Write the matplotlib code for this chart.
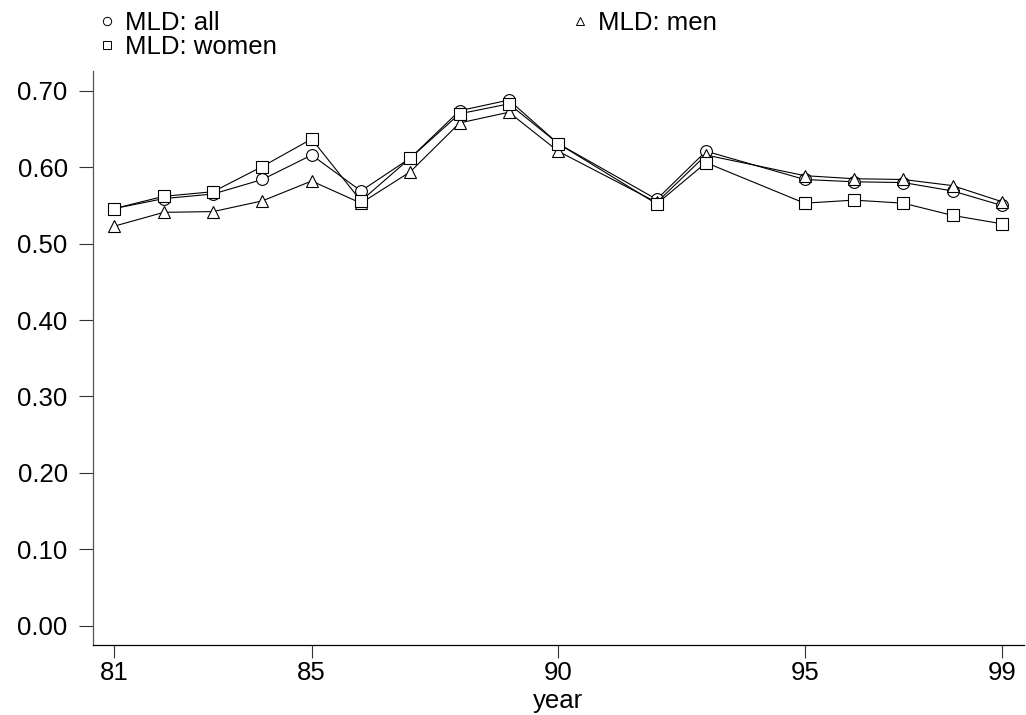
import matplotlib
matplotlib.use("Agg")
import matplotlib.pyplot as plt
from matplotlib.lines import Line2D

plt.rcParams['font.family'] = ['Liberation Sans', 'DejaVu Sans']

years = [81, 82, 83, 84, 85, 86, 87, 88, 89, 90, 92, 93, 95, 96, 97, 98, 99]
mld_all = [0.546, 0.559, 0.565, 0.584, 0.616, 0.569, 0.612, 0.674, 0.688, 0.631,
           0.558, 0.621, 0.584, 0.581, 0.580, 0.569, 0.550]
mld_women = [0.546, 0.562, 0.568, 0.601, 0.637, 0.556, 0.612, 0.670, 0.683, 0.631,
             0.552, 0.606, 0.553, 0.557, 0.553, 0.537, 0.526]
mld_men = [0.523, 0.541, 0.542, 0.556, 0.582, 0.553, 0.594, 0.658, 0.672, 0.621,
           0.554, 0.616, 0.589, 0.585, 0.584, 0.576, 0.555]
xticks = [81, 85, 90, 95, 99]
yticks = [0.0, 0.1, 0.2, 0.3, 0.4, 0.5, 0.6, 0.7]

W, H = 1026, 715
fig = plt.figure(figsize=(W / 100, H / 100), dpi=100)
left, right, top, bottom = 92.7, 1024, 71, 645
ax = fig.add_axes([left / W, 1 - bottom / H, (right - left) / W, (bottom - top) / H])

style = dict(color='black', lw=0.8, mfc='white', mec='black', mew=0.8)
ax.plot(years, mld_all, marker='o', ms=8.5, **style)
ax.plot(years, mld_men, marker='^', ms=9, **style)
ax.plot(years, mld_women, marker='s', ms=8, **style)

ax.set_xlim(80.558, 99.45)
ax.set_ylim(-0.0253, 0.726)
ax.set_xticks(xticks)
ax.set_xticklabels([str(x) for x in xticks])
ax.set_yticks(yticks)
ax.set_yticklabels([f"{y:.2f}" for y in yticks])
for s in ['top', 'right']:
    ax.spines[s].set_visible(False)
ax.spines['left'].set_color('#555555')
ax.spines['bottom'].set_color('black')
ax.spines['left'].set_linewidth(0.9)
ax.spines['bottom'].set_linewidth(0.9)
ax.tick_params(axis='both', direction='out', width=0.8, color='#333333', labelsize=18.5)
ax.tick_params(axis='y', length=10, pad=8)
ax.tick_params(axis='x', length=9.5, pad=2)
ax.set_xlabel('year', fontsize=18.5, labelpad=3)

handles = [
    Line2D([], [], ls='none', marker='o', ms=6, mfc='white', mec='black', mew=0.7),
    Line2D([], [], ls='none', marker='s', ms=5.5, mfc='white', mec='black', mew=0.7),
    Line2D([], [], ls='none', marker='^', ms=6, mfc='white', mec='black', mew=0.7),
]
labels = ['MLD: all', 'MLD: women', 'MLD: men']
fig.legend(handles, labels, ncol=2, frameon=False, fontsize=18.5,
           loc='upper left', bbox_to_anchor=(81 / W, 1 + 7 / H),
           handlelength=0.6, handletextpad=0.4, columnspacing=11.5,
           labelspacing=0.0, borderpad=0.2)

fig.savefig('out.png', dpi=100)
